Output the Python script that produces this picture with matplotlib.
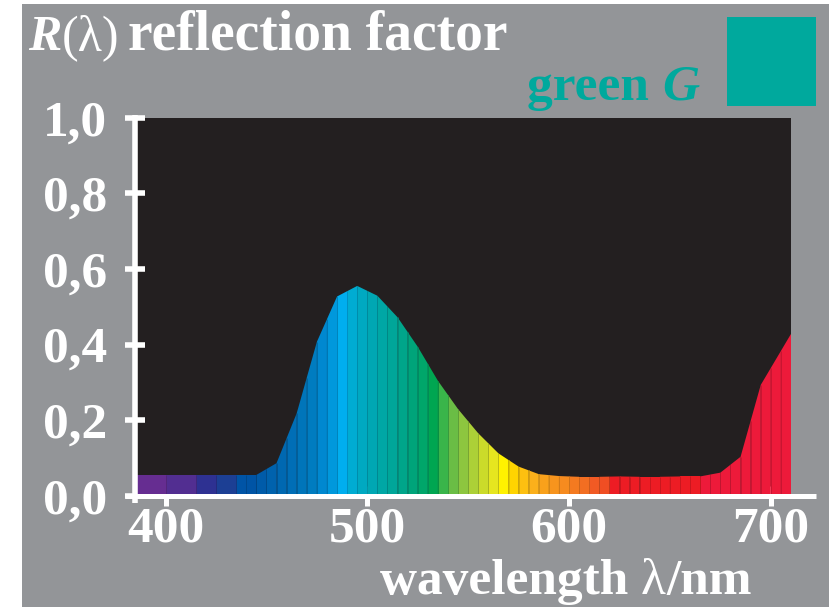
import matplotlib
matplotlib.use("Agg")
import matplotlib.pyplot as plt
import numpy as np
from matplotlib.colors import to_rgb

# ---------------- data ----------------
wavelengths = [386, 395, 405, 415, 425, 435, 445, 455, 465, 475, 485, 495, 505,
               515, 525, 535, 545, 555, 565, 575, 585, 595, 605, 615, 625, 635,
               645, 655, 665, 675, 685, 695, 710]
reflectance = [0.055, 0.055, 0.055, 0.055, 0.055, 0.055, 0.055, 0.086, 0.218,
               0.407, 0.527, 0.555, 0.529, 0.472, 0.394, 0.304, 0.229, 0.165,
               0.112, 0.077, 0.057, 0.052, 0.050, 0.050, 0.051, 0.050, 0.050,
               0.051, 0.051, 0.061, 0.103, 0.293, 0.428]

stripe_starts = list(range(385, 710, 5))
stripe_colors = [
    "#662d91", "#662d91", "#662d91",             # 385-400
    "#522e91", "#522e91", "#522e91",             # 400-415
    "#2e3192", "#2e3192",                        # 415-425
    "#1c3f94", "#1c3f94",                        # 425-435
    "#0054a6", "#0054a5", "#005ba9", "#0062ad",  # 435-455
    "#0068b1", "#006eb6", "#0075ba", "#007cc0",  # 455-475
    "#0088d0", "#0098dc", "#00aeef", "#00acd2",  # 475-495
    "#00a9c1", "#00a7b3", "#00a7a5", "#00a699",  # 495-515
    "#00a58a", "#00a47a", "#00a66a", "#00a651",  # 515-535
    "#39b54a", "#6abd45", "#8dc63f", "#acd037",  # 535-555
    "#cbdb2a", "#e6e61f", "#fff200", "#ffd400",  # 555-575
    "#fdc010", "#fbb01b", "#f9a11b", "#f7941d",  # 575-595
    "#f68b1f", "#f47a20", "#f26e22", "#f15a24",  # 595-615
    "#f04e23", "#ed1c24", "#ed1c24", "#ed1c24",  # 615-635
    "#ed1c24", "#ed1c24", "#ed1c24", "#ed1c24",  # 635-655
    "#ed1c24", "#ed1c24", "#ed1a3a", "#ed1a3a",  # 655-675
    "#ed1a3a", "#ed1a3a", "#ed1a3a", "#ed1a3a",  # 675-695
    "#ed1a3a", "#ed1a3a", "#ed1a3a",             # 695-710
]

y_ticks = [0.0, 0.2, 0.4, 0.6, 0.8, 1.0]
y_tick_labels = ["0,0", "0,2", "0,4", "0,6", "0,8", "1,0"]
x_ticks = [400, 500, 600, 700]
x_tick_labels = ["400", "500", "600", "700"]

GRAY = "#939598"
BLACK = "#231f20"
TEAL = "#00a99d"
W, H = 834, 607

fig = plt.figure(figsize=(W / 100, H / 100), dpi=100)
fig.patch.set_facecolor("white")

def fx(x):
    return x / W

def fy(y):
    return 1 - y / H

# gray background panel
bg = plt.Rectangle((fx(22), 0), fx(829) - fx(22), fy(4),
                   transform=fig.transFigure, facecolor=GRAY,
                   edgecolor="none", zorder=-10)
fig.patches.append(bg)

# teal swatch
sw = plt.Rectangle((fx(727), fy(106)), fx(816) - fx(727), fy(17) - fy(106),
                   transform=fig.transFigure, facecolor=TEAL,
                   edgecolor="none", zorder=-5)
fig.patches.append(sw)

# axes = black plot area
ax = fig.add_axes([fx(137.3), fy(495.7), fx(791) - fx(137.3), fy(117.7) - fy(495.7)])
ax.set_zorder(2)
ax.set_facecolor(BLACK)
ax.set_xlim(386, 710)
ax.set_ylim(0, 1)

wl = np.array(wavelengths, dtype=float)
rf = np.array(reflectance, dtype=float)

def darker(c, f=0.82):
    r, g, b = to_rgb(c)
    return (r * f, g * f, b * f)

for s, c in zip(stripe_starts, stripe_colors):
    a = max(s, 386)
    b = min(s + 5, 710)
    xs = np.array([a, b], dtype=float)
    ys = np.interp(xs, wl, rf)
    ax.fill_between(xs, 0, ys, facecolor=c, edgecolor="none", linewidth=0, zorder=2)

# faint stripe separators
for i, s in enumerate(stripe_starts[1:], start=1):
    if stripe_colors[i] == stripe_colors[i - 1] and s < 615:
        continue
    yv = np.interp(s, wl, rf)
    ax.vlines(s, 0, yv, colors=[darker(stripe_colors[i - 1])], linewidth=0.6, zorder=3)

# spines
for side in ["top", "right"]:
    ax.spines[side].set_visible(False)
ax.spines["left"].set_color("white")
ax.spines["left"].set_linewidth(4.0)
ax.spines["left"].set_position(("outward", 1.4))
ax.spines["left"].set_bounds(-0.02, 1.006)
ax.spines["bottom"].set_color("white")
ax.spines["bottom"].set_linewidth(3.6)
ax.spines["bottom"].set_bounds(380, 722.4)
for sp in ax.spines.values():
    sp.set_capstyle("butt")
    sp.set_zorder(5)

ax.set_yticks(y_ticks)
ax.set_yticklabels(y_tick_labels)
ax.set_xticks(x_ticks)
ax.set_xticklabels(x_tick_labels)

for lab in ax.get_yticklabels() + ax.get_xticklabels():
    lab.set_fontfamily("Liberation Serif")
    lab.set_fontweight("bold")
    lab.set_fontsize(37)
    lab.set_color("white")

ax.tick_params(axis="y", direction="inout", length=15, width=4.0, color="white", pad=13)
ax.tick_params(axis="x", direction="inout", length=14.4, width=3.6, color="white", pad=0.5)

# ---------------- texts ----------------
fig.canvas.draw()
renderer = fig.canvas.get_renderer()

def seq_text(x0, y_base, parts, color):
    x = x0
    for txt, style, weight, size in parts:
        t = fig.text(fx(x), fy(y_base), txt, color=color, fontsize=size,
                     family="Liberation Serif", style=style, weight=weight,
                     va="baseline", ha="left")
        bb = t.get_window_extent(renderer)
        x += bb.width
    return x

xe = seq_text(28, 50, [("R", "italic", "bold", 36),
                       ("(λ)", "normal", "normal", 36)], "white")
fig.text(fx(xe + 9), fy(50), "reflection factor", color="white", fontsize=40,
         family="Liberation Serif", weight="bold", va="baseline", ha="left")

seq_text(527, 100, [("green ", "normal", "bold", 37),
                    ("G", "italic", "bold", 37)], TEAL)

seq_text(380, 594, [("wavelength ", "normal", "bold", 37),
                    ("λ", "normal", "normal", 37),
                    ("/nm", "normal", "bold", 37)], "white")

fig.savefig("out.png", dpi=100, facecolor=fig.get_facecolor())
